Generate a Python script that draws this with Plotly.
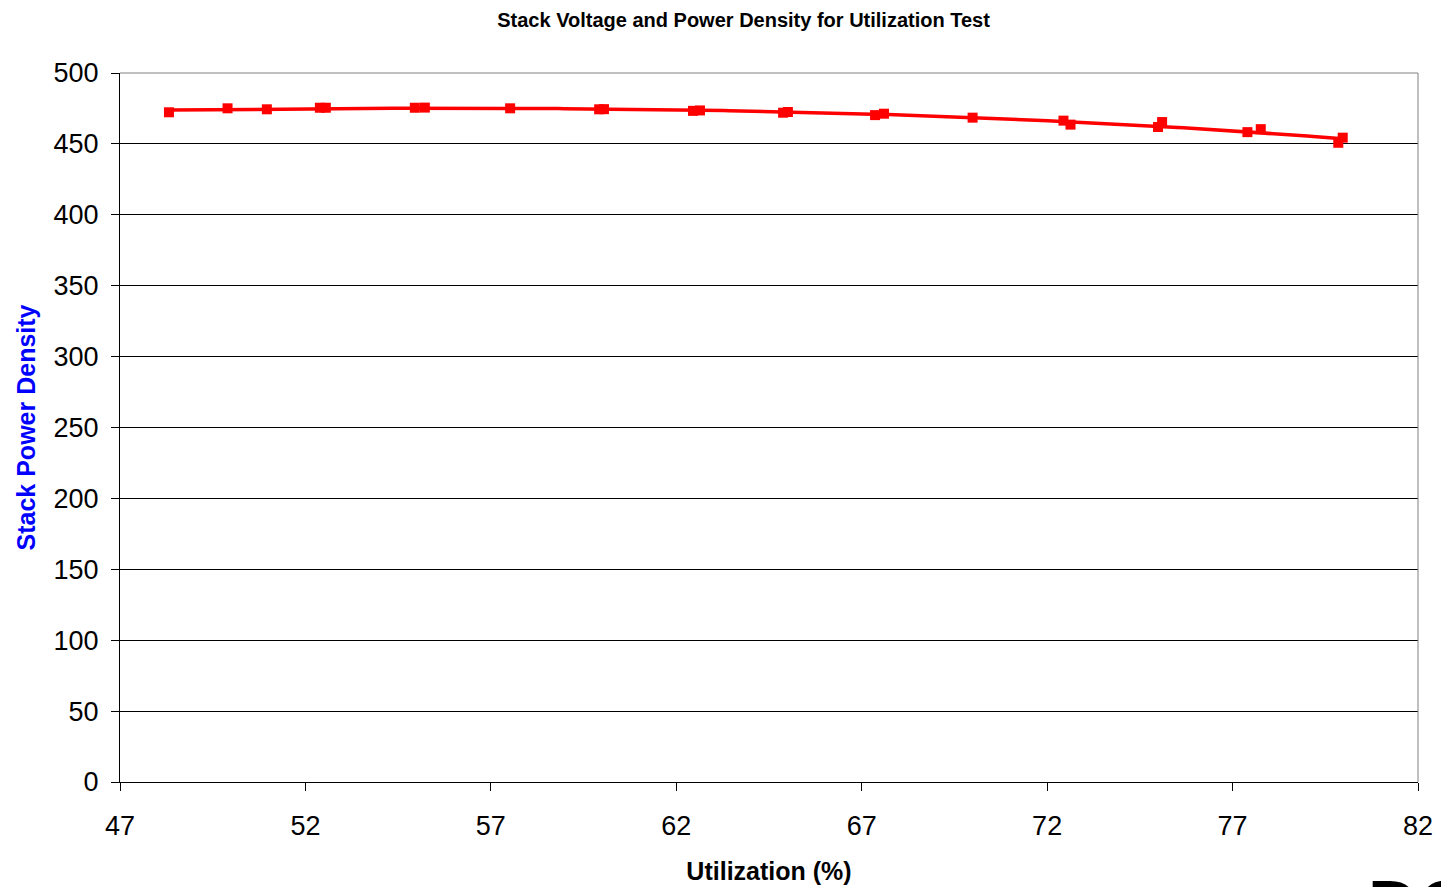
import numpy as np
import plotly.graph_objects as go

# Utilization sweep (%) and measured stack power density
utilization = [48.32, 49.90, 50.96, 52.39, 52.55, 54.95, 55.22, 57.52, 59.92, 60.05,
               62.45, 62.64, 64.88, 65.01, 67.36, 67.60, 69.99, 72.44, 72.63,
               74.99, 75.10, 77.40, 77.76, 79.85, 79.97]
power_density = [472.3, 475.1, 474.4, 475.5, 475.5, 475.5, 475.6, 475.1, 474.4, 474.5,
                 473.3, 473.6, 472.0, 472.5, 470.3, 471.3, 468.5, 466.4, 463.6,
                 461.9, 465.4, 458.3, 460.4, 450.8, 454.4]

x_ticks = [47, 52, 57, 62, 67, 72, 77, 82]
y_ticks = [0, 50, 100, 150, 200, 250, 300, 350, 400, 450, 500]

FONT = "Liberation Sans, Arial, sans-serif"

# smooth trend through the measurements
coef = np.polyfit(utilization, power_density, 3)
fit_x = np.linspace(min(utilization), max(utilization), 200)
fit_y = np.polyval(coef, fit_x)

fig = go.Figure()
fig.add_trace(go.Scatter(
    x=fit_x, y=fit_y, mode="lines",
    line=dict(color="#ff0000", width=3.5),
    showlegend=False, hoverinfo="skip",
))
fig.add_trace(go.Scatter(
    x=utilization, y=power_density, mode="markers",
    marker=dict(symbol="square", size=10, color="#ff0000"),
    showlegend=False, hoverinfo="x+y",
))

# frame on top and right edges of the plot area
fig.add_shape(type="line", xref="paper", yref="paper", x0=0, x1=1, y0=1, y1=1,
              line=dict(color="#808080", width=1))
fig.add_shape(type="line", xref="paper", yref="paper", x0=1, x1=1, y0=0, y1=1,
              line=dict(color="#808080", width=1))

fig.update_layout(
    width=1441, height=887,
    margin=dict(l=120, r=23, t=73, b=105),
    paper_bgcolor="white", plot_bgcolor="white",
    font=dict(family=FONT, color="black"),
    title=dict(text="<b>Stack Voltage and Power Density for Utilization Test</b>",
               x=0.5160, xanchor="center", y=0.978, yanchor="middle",
               font=dict(size=20, family=FONT, color="black")),
    xaxis=dict(
        range=[47, 82], tickvals=x_ticks, ticktext=[str(v) for v in x_ticks],
        showgrid=False, zeroline=False, automargin=False,
        showline=True, linecolor="black", linewidth=1,
        ticks="outside", ticklen=8, tickcolor="black",
        ticklabelstandoff=12,
        tickfont=dict(size=27, family=FONT),
        title=dict(text="<b>Utilization (%)</b>", font=dict(size=25, family=FONT), standoff=22),
    ),
    yaxis=dict(
        range=[0, 500], tickvals=y_ticks,
        showgrid=True, gridcolor="black", gridwidth=1, zeroline=False, automargin=False,
        showline=True, linecolor="black", linewidth=1,
        ticks="outside", ticklen=8, tickcolor="black",
        ticklabelstandoff=7,
        tickfont=dict(size=27, family=FONT),
        title=dict(text="<b>Stack Power Density</b>",
                   font=dict(size=25, family=FONT, color="#0000ff"), standoff=10),
    ),
    annotations=[dict(
        text="<b>DO</b>", xref="paper", yref="paper",
        x=(1366 - 120) / (1418 - 120), y=-(865 - 782) / (782 - 73),
        xanchor="left", yanchor="top", showarrow=False,
        font=dict(size=70, family=FONT, color="black"),
    )],
)

fig.write_html("out.html")
